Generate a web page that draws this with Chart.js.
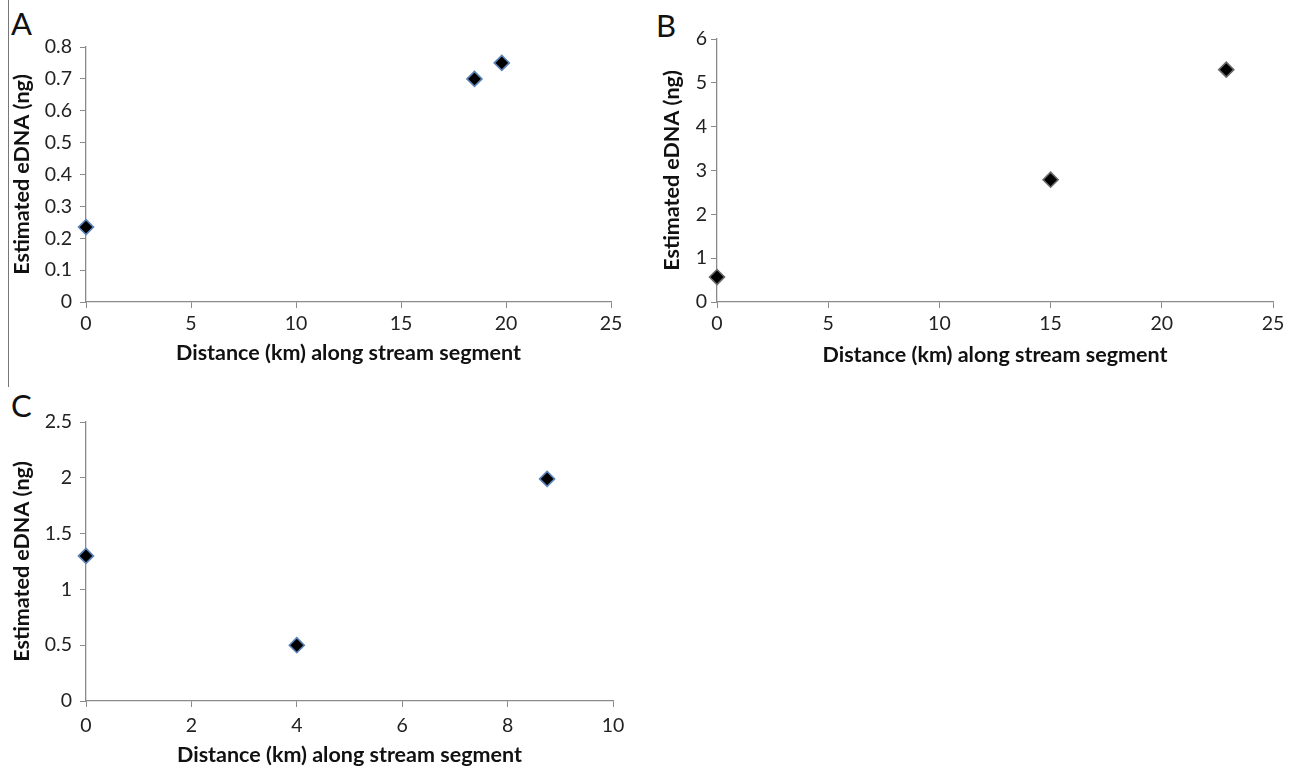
<!DOCTYPE html>
<html>
<head>
<meta charset="utf-8">
<script src="https://cdn.jsdelivr.net/npm/chart.js@4.4.1/dist/chart.umd.min.js"></script>
<style>
  html, body { margin:0; padding:0; background:#fff; width:1298px; height:767px; overflow:hidden; }
  .panel { position:absolute; }
  .letter { position:absolute; font-family: Lato, "Open Sans", sans-serif; font-size:31px; color:#111; line-height:1; }
  .rule { position:absolute; left:8px; top:0; width:1px; height:387px; background:#777; }
</style>
</head>
<body>
<div class="rule"></div>
<div class="letter" style="left:11px; top:8px;">A</div>
<div class="letter" style="left:656px; top:10px;">B</div>
<div class="letter" style="left:11px; top:390px;">C</div>

<div class="panel" style="left:0; top:0; width:640px; height:380px;"><canvas id="chartA"></canvas></div>
<div class="panel" style="left:640px; top:0; width:658px; height:380px;"><canvas id="chartB"></canvas></div>
<div class="panel" style="left:0; top:385px; width:640px; height:400px;"><canvas id="chartC"></canvas></div>

<script>
// ---- data ----
const distA = [0, 18.5, 19.8];
const ednaA = [0.235, 0.70, 0.75];
const xTicksA = [0, 5, 10, 15, 20, 25];
const yTicksA = [0, 0.1, 0.2, 0.3, 0.4, 0.5, 0.6, 0.7, 0.8];

const distB = [0, 15, 22.9];
const ednaB = [0.57, 2.79, 5.3];
const xTicksB = [0, 5, 10, 15, 20, 25];
const yTicksB = [0, 1, 2, 3, 4, 5, 6];

const distC = [0, 4, 8.75];
const ednaC = [1.30, 0.50, 1.99];
const xTicksC = [0, 2, 4, 6, 8, 10];
const yTicksC = [0, 0.5, 1, 1.5, 2, 2.5];

const X_TITLE = "Distance (km) along stream segment";
const Y_TITLE = "Estimated eDNA (ng)";

Chart.defaults.font.family = "Lato, 'Open Sans', sans-serif";
Chart.defaults.color = "#222";

const AXIS = "#8a8a8a";
const TICK_SIZE = 19.5;
const TITLE_SIZE = 21.5;

function points(xs, ys){ return xs.map((x, i) => ({x: x, y: ys[i]})); }

function makePanel(id, cfg){
  new Chart(document.getElementById(id), {
    type: "scatter",
    data: {
      datasets: [{
        data: points(cfg.xs, cfg.ys),
        pointStyle: "rectRot",
        pointRadius: 7.5,
        pointHoverRadius: 7.5,
        backgroundColor: "#000",
        borderColor: cfg.edge,
        borderWidth: 1.6,
        clip: false
      }]
    },
    options: {
      responsive: true,
      maintainAspectRatio: false,
      animation: false,
      layout: { padding: cfg.pad },
      plugins: { legend: { display: false }, tooltip: { enabled: false } },
      scales: {
        x: {
          type: "linear",
          min: cfg.xTicks[0], max: cfg.xTicks[cfg.xTicks.length - 1],
          afterBuildTicks: s => { s.ticks = cfg.xTicks.map(v => ({value: v})); },
          afterFit: s => { s.height = cfg.xH; },
          grid: { drawOnChartArea: false, drawTicks: true, tickLength: 6, color: AXIS },
          border: { display: true, color: AXIS, width: 1.3 },
          ticks: { padding: cfg.xTickPad, font: { size: TICK_SIZE }, color: "#222", callback: v => String(v) },
          title: { display: true, text: X_TITLE, color: "#111",
                   font: { size: TITLE_SIZE, weight: "bold" }, padding: { top: 0, bottom: cfg.xTitlePad } }
        },
        y: {
          type: "linear",
          min: cfg.yTicks[0], max: cfg.yTicks[cfg.yTicks.length - 1],
          afterBuildTicks: s => { s.ticks = cfg.yTicks.map(v => ({value: v})); },
          afterFit: s => { s.width = cfg.yW; },
          grid: { drawOnChartArea: false, drawTicks: true, tickLength: 6, color: AXIS },
          border: { display: true, color: AXIS, width: 1.3 },
          ticks: { padding: cfg.yTickPad, font: { size: TICK_SIZE }, color: "#222", callback: v => String(v) },
          title: { display: true, text: Y_TITLE, color: "#111",
                   font: { size: TITLE_SIZE, weight: "bold" }, padding: { top: cfg.yTitlePad, bottom: 0 } }
        }
      }
    }
  });
}

makePanel("chartA", {
  xs: distA, ys: ednaA, xTicks: xTicksA, yTicks: yTicksA, edge: "#5d83b8",
  pad: { left: 0, top: 47, right: 29, bottom: 0 },
  xH: 78, yW: 86, xTickPad: 4, yTickPad: 8, xTitlePad: 14, yTitlePad: 9
});

makePanel("chartB", {
  xs: distB, ys: ednaB, xTicks: xTicksB, yTicks: yTicksB, edge: "#6a6a6a",
  pad: { left: 0, top: 39, right: 25, bottom: 0 },
  xH: 78, yW: 77, xTickPad: 4, yTickPad: 4, xTitlePad: 12, yTitlePad: 19
});

makePanel("chartC", {
  xs: distC, ys: ednaC, xTicks: xTicksC, yTicks: yTicksC, edge: "#5d83b8",
  pad: { left: 0, top: 37, right: 27, bottom: 0 },
  xH: 84, yW: 86, xTickPad: 7, yTickPad: 8, xTitlePad: 17, yTitlePad: 9
});
</script>
</body>
</html>
